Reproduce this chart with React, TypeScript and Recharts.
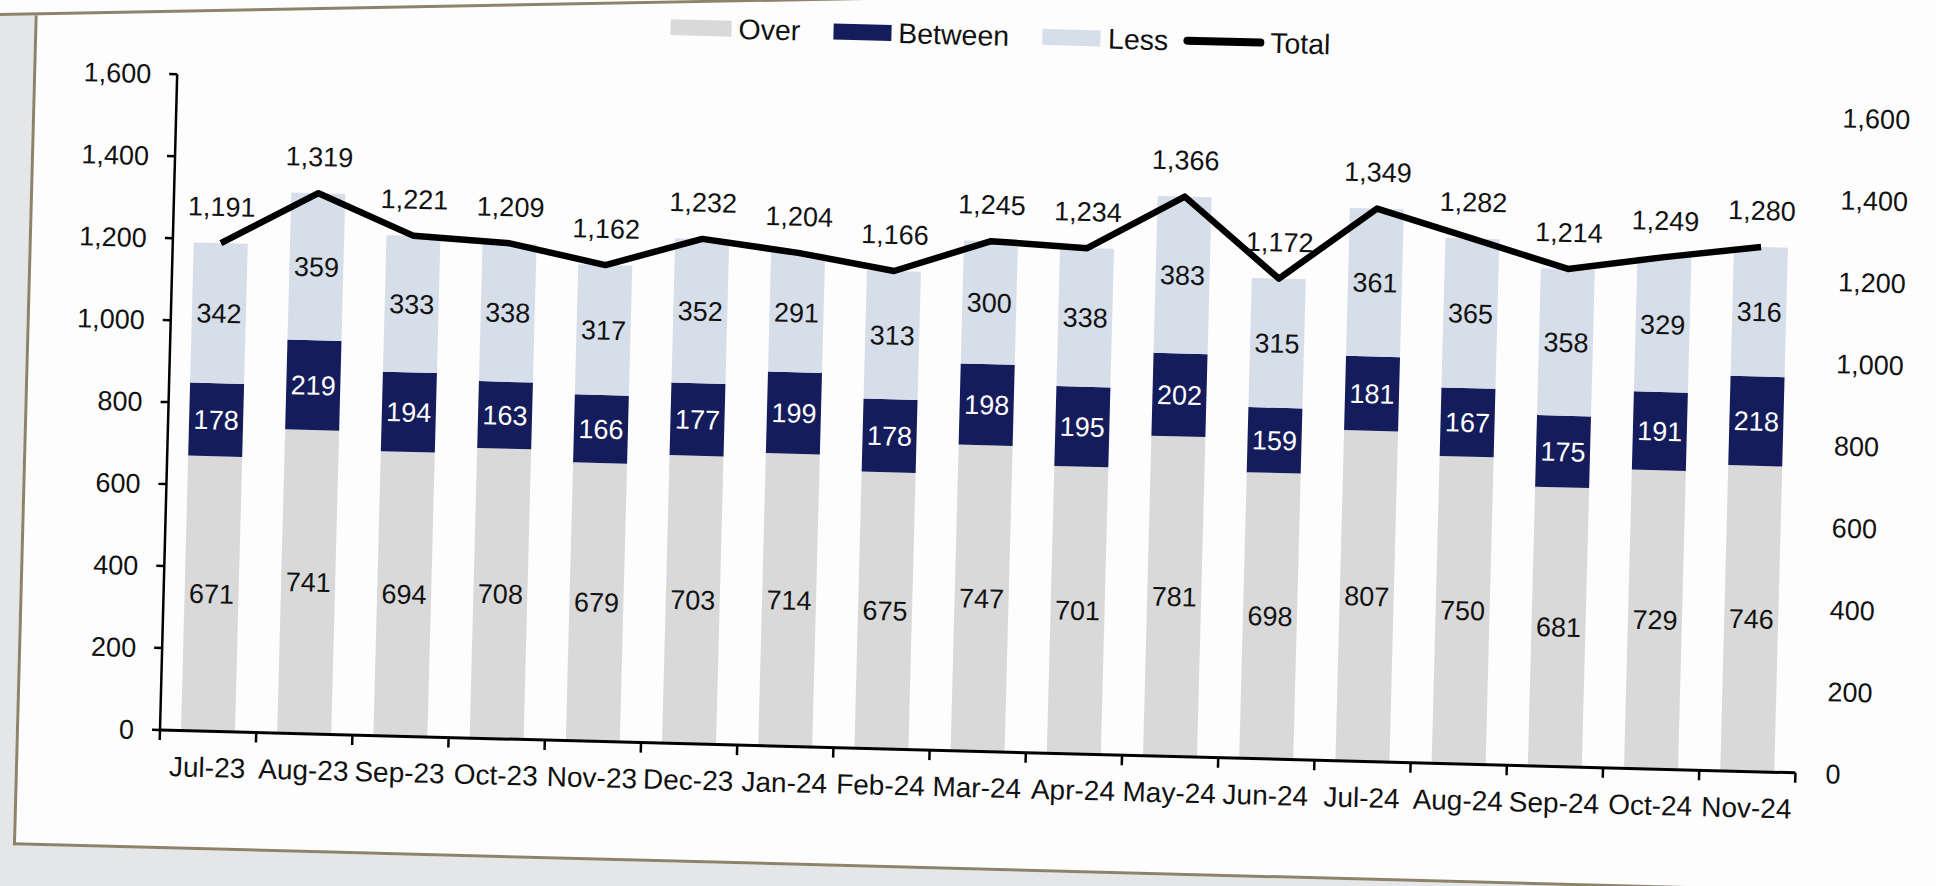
import React from "react"
import { Bar, ComposedChart, LabelList, Line, XAxis, YAxis } from "recharts"

const months = ["Jul-23", "Aug-23", "Sep-23", "Oct-23", "Nov-23", "Dec-23", "Jan-24", "Feb-24", "Mar-24", "Apr-24", "May-24", "Jun-24", "Jul-24", "Aug-24", "Sep-24", "Oct-24", "Nov-24"]
const over = [671, 741, 694, 708, 679, 703, 714, 675, 747, 701, 781, 698, 807, 750, 681, 729, 746]
const between = [178, 219, 194, 163, 166, 177, 199, 178, 198, 195, 202, 159, 181, 167, 175, 191, 218]
const less = [342, 359, 333, 338, 317, 352, 291, 313, 300, 338, 383, 315, 361, 365, 358, 329, 316]
const total = [1191, 1319, 1221, 1209, 1162, 1232, 1204, 1166, 1245, 1234, 1366, 1172, 1349, 1282, 1214, 1249, 1280]
const yTicks = [0, 200, 400, 600, 800, 1000, 1200, 1400, 1600]

const data = months.map((m, i) => ({ month: m, idx: i, over: over[i], between: between[i], less: less[i], total: total[i] }))
// tick marks sit between the categories, like the Excel original
const boundaryTicks = [...months.map((_, i) => i), months.length]

const OVER = "#d9d9d9"
const BETWEEN = "#141c5c"
const LESS = "#d6dee9"
const INK = "#111"
const FONT = "'Liberation Sans', Arial, sans-serif"
const FS = 27

const fmt = (v: any) => Number(v).toLocaleString("en-US")
const noTick = () => <g />

function ChartLegend() {
  const sw = (bg: string, w: number) => <div style={{ width: w, height: 16, background: bg }} />
  return (
    <div style={{ position: "absolute", left: 652, top: -1, height: 30, display: "flex", alignItems: "center", fontSize: 28.5, color: INK, whiteSpace: "nowrap" }}>
      {sw(OVER, 61)}
      <span style={{ marginLeft: 7 }}>Over</span>
      <div style={{ width: 33 }} />
      {sw(BETWEEN, 58)}
      <span style={{ marginLeft: 7 }}>Between</span>
      <div style={{ width: 33 }} />
      {sw(LESS, 58)}
      <span style={{ marginLeft: 8 }}>Less</span>
      <div style={{ width: 15 }} />
      <div style={{ width: 81, height: 8, borderRadius: 4, background: "#000" }} />
      <span style={{ marginLeft: 6 }}>Total</span>
    </div>
  )
}

export default function App() {
  return (
    <div style={{ position: "fixed", left: 0, top: 0, width: 1936, height: 886, overflow: "hidden", background: "#e4e6e8", fontFamily: FONT }}>
      <div style={{ position: "absolute", left: 0, top: 0, width: 1936, height: 886, transform: "rotate(1.5deg)", transformOrigin: "160px 730px" }}>
        <div style={{ position: "absolute", left: 16, top: -400, width: 2400, height: 1246, background: "#fdfdfd", borderLeft: "3px solid #8d836b", borderBottom: "3px solid #8d836b" }} />
        <ChartLegend />
        <div style={{ position: "absolute", left: 0, top: 0 }}>
          <ComposedChart width={1936} height={886} data={data} margin={{ top: 74, right: 40, bottom: 96, left: 60 }}>
            <XAxis
              xAxisId="month"
              dataKey="month"
              interval={0}
              axisLine={false}
              tickLine={false}
              tickSize={0}
              tickMargin={16}
              height={50}
              tick={{ fill: INK, fontSize: 28 }}
            />
            <XAxis
              xAxisId="axisTicks"
              type="number"
              dataKey="idx"
              domain={[0, "dataMax + 1"]}
              ticks={boundaryTicks}
              interval={0}
              allowDataOverflow
              tick={noTick}
              tickSize={10}
              height={10}
              axisLine={{ stroke: "#000", strokeWidth: 3 }}
              tickLine={{ stroke: "#000", strokeWidth: 2.5 }}
            />
            <YAxis
              yAxisId="left"
              domain={[0, 1600]}
              ticks={yTicks}
              tickFormatter={fmt}
              width={100}
              tickSize={8}
              tickMargin={18}
              axisLine={{ stroke: "#000", strokeWidth: 2.5 }}
              tickLine={{ stroke: "#000", strokeWidth: 2.5 }}
              tick={{ fill: INK, fontSize: FS }}
            />
            <YAxis
              yAxisId="right"
              orientation="right"
              domain={[0, 1600]}
              ticks={yTicks}
              tickFormatter={fmt}
              width={100}
              tickSize={8}
              tickMargin={22}
              axisLine={false}
              tickLine={false}
              tick={{ fill: INK, fontSize: FS }}
            />
            <Bar xAxisId="month" yAxisId="left" dataKey="over" name="Over" stackId="s" fill={OVER} barSize={54} isAnimationActive={false}>
              <LabelList dataKey="over" position="center" fill={INK} fontSize={FS} />
            </Bar>
            <Bar xAxisId="month" yAxisId="left" dataKey="between" name="Between" stackId="s" fill={BETWEEN} barSize={54} isAnimationActive={false}>
              <LabelList dataKey="between" position="center" fill="#fff" fontSize={FS} />
            </Bar>
            <Bar xAxisId="month" yAxisId="left" dataKey="less" name="Less" stackId="s" fill={LESS} barSize={54} isAnimationActive={false}>
              <LabelList dataKey="less" position="center" fill={INK} fontSize={FS} />
            </Bar>
            <Line
              xAxisId="month"
              yAxisId="right"
              dataKey="total"
              name="Total"
              stroke="#000"
              strokeWidth={6.5}
              strokeLinejoin="round"
              dot={false}
              activeDot={false}
              isAnimationActive={false}
            >
              <LabelList dataKey="total" position="top" offset={27} fill={INK} fontSize={FS} formatter={fmt} />
            </Line>
          </ComposedChart>
        </div>
      </div>
      <div style={{ position: "absolute", left: 0, top: -42, width: 1300, height: 55, background: "#fdfdfd", borderBottom: "3px solid #8d836b", transformOrigin: "0px 58px", transform: "rotate(-1.06deg)" }} />
    </div>
  )
}
